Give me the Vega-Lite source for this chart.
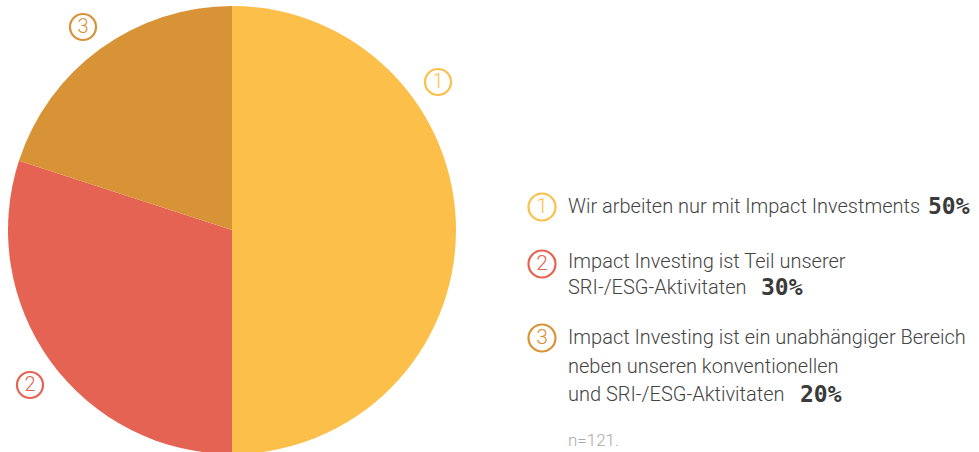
{
  "$schema": "https://vega.github.io/schema/vega-lite/v6.json",
  "padding": 0,
  "spacing": 0,
  "config": {"view": {"stroke": null}, "concat": {"spacing": 0}},
  "datasets": {
    "slices": [
      {"id": 1, "pct": 50},
      {"id": 2, "pct": 30},
      {"id": 3, "pct": 20}
    ],
    "pieMarkers": [
      {"id": 1, "mx": 206, "my": 148},
      {"id": 2, "mx": -202, "my": -155},
      {"id": 3, "mx": -149, "my": 203}
    ],
    "legendMarkers": [
      {"id": 1, "cx": 78, "cy": 207},
      {"id": 2, "cx": 78, "cy": 264},
      {"id": 3, "cx": 78, "cy": 338}
    ],
    "lines": [
      {"tx": 104, "ty": 207, "text": "Wir arbeiten nur mit Impact Investments"},
      {"tx": 104, "ty": 262, "text": "Impact Investing ist Teil unserer"},
      {"tx": 104, "ty": 288, "text": "SRI-/ESG-Aktivitaten"},
      {"tx": 104, "ty": 338, "text": "Impact Investing ist ein unabhängiger Bereich"},
      {"tx": 104, "ty": 367, "text": "neben unseren konventionellen"},
      {"tx": 104, "ty": 395, "text": "und SRI-/ESG-Aktivitaten"}
    ],
    "pcts": [
      {"tx": 464, "ty": 207, "text": "50%"},
      {"tx": 297, "ty": 288, "text": "30%"},
      {"tx": 336, "ty": 395, "text": "20%"}
    ],
    "note": [
      {"tx": 104, "ty": 441, "text": "n=121."}
    ]
  },
  "hconcat": [
    {
      "width": 464,
      "height": 460,
      "layer": [
        {
          "data": {"name": "slices"},
          "mark": {"type": "arc", "outerRadius": 224},
          "encoding": {
            "theta": {"field": "pct", "type": "quantitative", "stack": true, "scale": {"domain": [0, 100]}},
            "order": {"field": "id", "type": "quantitative"},
            "color": {"field": "id", "type": "nominal", "scale": {"domain": [1, 2, 3], "range": ["#FCBF49", "#E56352", "#D99337"]}, "legend": null}
          }
        },
        {
          "data": {"name": "pieMarkers"},
          "mark": {"type": "point", "shape": "circle", "filled": false, "size": 676, "strokeWidth": 2.2, "opacity": 1},
          "encoding": {
            "x": {"field": "mx", "type": "quantitative", "scale": {"domain": [-232, 232], "nice": false, "zero": false}, "axis": null},
            "y": {"field": "my", "type": "quantitative", "scale": {"domain": [-230, 230], "nice": false, "zero": false}, "axis": null},
            "color": {"field": "id", "type": "nominal", "legend": null}
          }
        },
        {
          "data": {"name": "pieMarkers"},
          "mark": {"type": "text", "font": "Roboto", "fontWeight": 300, "fontSize": 20, "baseline": "middle", "align": "center"},
          "encoding": {
            "x": {"field": "mx", "type": "quantitative", "scale": {"domain": [-232, 232], "nice": false, "zero": false}, "axis": null},
            "y": {"field": "my", "type": "quantitative", "scale": {"domain": [-230, 230], "nice": false, "zero": false}, "axis": null},
            "text": {"field": "id", "type": "nominal"},
            "color": {"field": "id", "type": "nominal", "legend": null}
          }
        }
      ]
    },
    {
      "width": 515,
      "height": 460,
      "layer": [
        {
          "data": {"name": "legendMarkers"},
          "mark": {"type": "point", "shape": "circle", "filled": false, "size": 729, "strokeWidth": 2.2, "opacity": 1},
          "encoding": {
            "x": {"field": "cx", "type": "quantitative", "scale": {"domain": [0, 515], "nice": false}, "axis": null},
            "y": {"field": "cy", "type": "quantitative", "scale": {"domain": [0, 460], "nice": false, "reverse": true}, "axis": null},
            "color": {"field": "id", "type": "nominal", "legend": null}
          }
        },
        {
          "data": {"name": "legendMarkers"},
          "mark": {"type": "text", "font": "Roboto", "fontWeight": 300, "fontSize": 21, "baseline": "middle", "align": "center"},
          "encoding": {
            "x": {"field": "cx", "type": "quantitative", "scale": {"domain": [0, 515], "nice": false}, "axis": null},
            "y": {"field": "cy", "type": "quantitative", "scale": {"domain": [0, 460], "nice": false, "reverse": true}, "axis": null},
            "text": {"field": "id", "type": "nominal"},
            "color": {"field": "id", "type": "nominal", "legend": null}
          }
        },
        {
          "data": {"name": "lines"},
          "mark": {"type": "text", "font": "Roboto", "fontWeight": 300, "fontSize": 20, "baseline": "middle", "align": "left", "color": "#444444"},
          "encoding": {
            "x": {"field": "tx", "type": "quantitative", "scale": {"domain": [0, 515], "nice": false}, "axis": null},
            "y": {"field": "ty", "type": "quantitative", "scale": {"domain": [0, 460], "nice": false, "reverse": true}, "axis": null},
            "text": {"field": "text", "type": "nominal"}
          }
        },
        {
          "data": {"name": "pcts"},
          "mark": {"type": "text", "font": "DejaVu Sans Mono", "fontWeight": "bold", "fontSize": 23, "baseline": "middle", "align": "left", "color": "#3a3a3a"},
          "encoding": {
            "x": {"field": "tx", "type": "quantitative", "scale": {"domain": [0, 515], "nice": false}, "axis": null},
            "y": {"field": "ty", "type": "quantitative", "scale": {"domain": [0, 460], "nice": false, "reverse": true}, "axis": null},
            "text": {"field": "text", "type": "nominal"}
          }
        },
        {
          "data": {"name": "note"},
          "mark": {"type": "text", "font": "Roboto", "fontWeight": 300, "fontSize": 17, "baseline": "middle", "align": "left", "color": "#aaaaaa"},
          "encoding": {
            "x": {"field": "tx", "type": "quantitative", "scale": {"domain": [0, 515], "nice": false}, "axis": null},
            "y": {"field": "ty", "type": "quantitative", "scale": {"domain": [0, 460], "nice": false, "reverse": true}, "axis": null},
            "text": {"field": "text", "type": "nominal"}
          }
        }
      ]
    }
  ]
}
